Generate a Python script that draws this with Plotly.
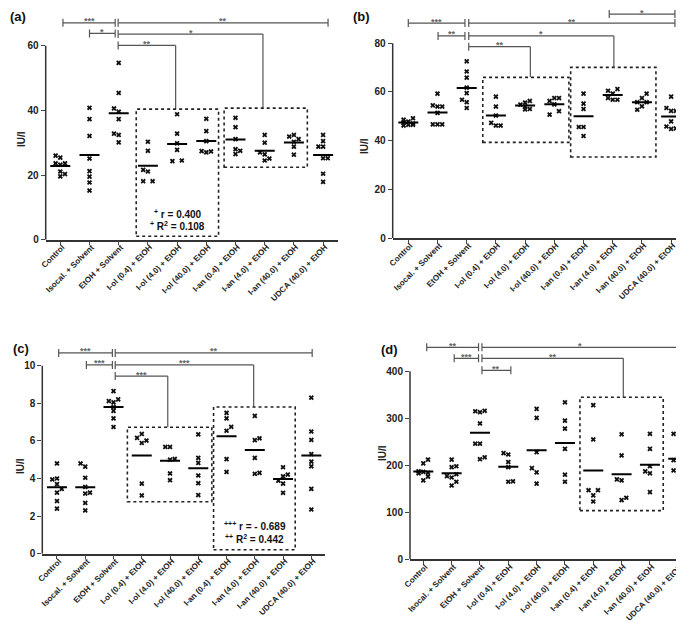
import plotly.graph_objects as go

W, H = 684, 623

categories = ["Control", "Isocal. + Solvent", "EtOH + Solvent", "I-ol (0.4) + EtOH",
              "I-ol (4.0) + EtOH", "I-ol (40.0) + EtOH", "I-an (0.4) + EtOH",
              "I-an (4.0) + EtOH", "I-an (40.0) + EtOH", "UDCA (40.0) + EtOH"]

# ---------------- Panel (a) ----------------
a_values = [
    [26.0, 25.4, 23.6, 23.2, 23.6, 21.1, 19.6, 20.3],
    [40.8, 37.3, 32.1, 25.1, 21.2, 19.5, 17.7, 15.2],
    [54.7, 45.4, 40.6, 39.6, 37.3, 32.8, 32.4, 30.1],
    [30.3, 27.5, 21.6, 21.1, 18.1, 18.1],
    [38.8, 32.8, 29.8, 27.8, 24.3, 24.5],
    [37.4, 33.6, 30.5, 27.4, 27.0, 27.3],
    [37.7, 34.8, 31.1, 28.0, 27.5, 26.5],
    [32.4, 30.0, 27.0, 26.4, 25.1, 24.5],
    [31.9, 32.4, 31.1, 30.3, 28.8, 26.3],
    [32.4, 30.5, 28.8, 28.8, 25.2, 25.2, 20.4, 17.9],
]
a_columns = [
    [-1, 0, -1, 0, 1, 0, 0, 1],
    [0, 0, 0, 0, 0, 0, 0, 0],
    [0, 0, -1, 0, 0, -1, 0, 0],
    [0, 0, -1, 0, -1, 1],
    [0, 0, 0, 0, -1, 1],
    [0, 0, 0, -1, 0, 1],
    [0, 0, 0, 0, 1, 0],
    [0, 0, -1, 0, 1, 0],
    [-1, 0, 1, 0, 0, 0],
    [0, 0, -1, 0, 0, 1, 0, 0],
]
a_means = [22.8, 26.2, 39.1, 22.9, 29.6, 30.5, 31.0, 27.5, 30.1, 26.2]
a_yticks = [0, 20, 40, 60]
a_brackets = [("***", 0.09, 1.88, 67.1, None), ("**", 1.98, 9.17, 67.1, None),
              ("*", 1.0, 1.88, 63.8, None), ("*", 1.98, 6.94, 63.6, 40.6),
              ("**", 1.98, 3.95, 60.1, 40.4)]
a_boxes = [(2.60, 5.42, 1.05, 40.4), (5.61, 8.46, 22.4, 40.7)]
a_notes = [("<sup>+</sup> r = 0.400", 4.03, 8.0), ("<sup>+</sup> R<sup>2</sup> = 0.108", 4.03, 4.1)]

# ---------------- Panel (b) ----------------
b_values = [
    [49.2, 48.6, 47.8, 47.4, 47.0, 46.5, 46.2, 46.5],
    [59.3, 54.5, 54.0, 54.0, 51.4, 46.7, 46.7, 46.7],
    [72.6, 68.4, 65.9, 61.8, 59.5, 56.8, 55.8, 53.4],
    [58.1, 54.0, 50.3, 47.3, 46.2, 46.2],
    [56.3, 55.6, 54.8, 54.0, 52.8, 53.0],
    [57.5, 57.5, 56.3, 54.9, 52.1, 50.7],
    [59.3, 55.2, 53.0, 45.6, 45.6, 41.9],
    [61.2, 60.5, 59.3, 57.5, 56.8, 56.8],
    [59.3, 57.5, 55.8, 55.8, 54.1, 52.7],
    [58.1, 53.4, 52.2, 52.2, 47.9, 45.8, 44.8, 45.0],
]
b_columns = [
    [1, -1, 0, -1, 1, 0, -1, 1],
    [0, -1, 0, 1, 0, -1, 0, 1],
    [0, 0, 0, 0, 0, -1, 0, 0],
    [0, 0, 0, -1, 0, 1],
    [1, 0, -1, 0, 0, 1],
    [0, 1, -1, 0, 1, -1],
    [0, 0, 0, -1, 0, 0],
    [1, -1, 0, -1, 0, 1],
    [1, 0, -1, 1, 0, -1],
    [0, -1, 0, 1, 0, -1, 0, 1],
]
b_means = [47.5, 51.6, 61.6, 50.3, 54.4, 54.9, 50.0, 58.7, 55.8, 49.9]
b_yticks = [0, 20, 40, 60, 80]
b_brackets = [("*", 6.88, 9.13, 92.0, None), ("***", 0.0, 1.94, 88.3, None),
              ("**", 2.07, 9.13, 88.3, None), ("**", 1.02, 1.94, 83.0, None),
              ("*", 2.07, 7.04, 83.0, 70.1), ("**", 2.07, 4.18, 78.6, 66.0)]
b_boxes = [(2.55, 5.50, 39.3, 66.0), (5.56, 8.48, 33.3, 70.1)]
b_notes = []

# ---------------- Panel (c) ----------------
c_values = [
    [4.8, 4.0, 3.95, 3.7, 3.45, 3.25, 2.8, 2.4],
    [4.8, 4.63, 4.04, 3.55, 3.25, 3.2, 2.7, 2.3],
    [8.65, 8.21, 8.12, 8.05, 7.8, 7.6, 7.2, 6.74],
    [6.37, 6.16, 6.02, 5.89, 3.73, 3.1],
    [5.68, 5.68, 5.04, 5.0, 4.27, 3.91],
    [6.35, 5.1, 4.83, 4.16, 3.75, 3.12],
    [7.49, 7.2, 6.75, 6.54, 5.03, 4.35],
    [7.33, 6.14, 6.04, 5.1, 4.3, 4.25],
    [4.6, 4.21, 4.12, 3.89, 3.73, 3.24],
    [8.3, 6.5, 6.05, 5.3, 4.9, 4.65, 3.45, 2.35],
]
c_columns = [
    [0, 0, -1, 0, 1, 0, 0, 0],
    [-1, 0, 0, 0, 1, 0, 0, 0],
    [0, 1, -1, 0, 0, 0, 0, 0],
    [0, -1, 1, 0, 0, 0],
    [-1, 0, 1, 0, 0, 0],
    [0, 0, 0, 0, 0, 0],
    [0, 0, 1, 0, 0, 0],
    [0, 1, 0, 0, 1, 0],
    [0, 1, 0, -1, 0, 0],
    [0, 0, 0, 0, 0, 0, 0, 0],
]
c_means = [3.54, 3.54, 7.8, 5.22, 4.94, 4.55, 6.25, 5.52, 3.98, 5.22]
c_yticks = [0, 2, 4, 6, 8, 10]
c_brackets = [("***", 0.06, 1.96, 10.68, None), ("**", 2.06, 9.03, 10.68, None),
              ("***", 1.04, 1.96, 10.04, None), ("***", 2.06, 6.96, 10.04, 7.8),
              ("***", 2.06, 3.92, 9.45, 6.73)]
c_boxes = [(2.49, 5.48, 2.76, 6.73), (5.54, 8.43, 0.21, 7.8)]
c_notes = [("<sup>+++</sup> r = - 0.689", 6.99, 1.46), ("<sup>++</sup> R<sup>2</sup> = 0.442", 6.99, 0.8)]

# ---------------- Panel (d) ----------------
d_values = [
    [212, 204, 187, 186, 184, 183, 176, 168],
    [212, 198, 196, 181, 177, 174, 165, 157],
    [316, 315, 313, 289, 246, 246, 217, 213],
    [226, 223, 207, 196, 166, 165],
    [320, 301, 228, 194, 185, 161],
    [334, 295, 278, 235, 180, 165],
    [328, 255, 147, 147, 136, 123],
    [266, 221, 170, 168, 131, 126],
    [267, 235, 198, 187, 183, 143],
    [267, 265, 216, 211, 204, 189, 189, 179],
]
d_columns = [
    [1, 0, -1, 0, 1, -1, 1, 0],
    [0, 1, 0, 1, -1, 0, 1, 0],
    [1, -1, 0, 0, -1, 0, 1, 0],
    [-1, 0, 0, 0, 1, 0],
    [0, 0, 0, -1, 0, 0],
    [0, 0, 0, 0, 0, 0],
    [0, 0, -1, 1, 0, 0],
    [0, 0, -1, 0, 1, 0],
    [0, 0, 0, -1, 0, 0],
    [-1, 0, 0, -1, 0, -1, 1, 0],
]
d_means = [187, 183, 269.5, 197, 232, 247.5, 189, 181, 201, 214]
d_yticks = [0, 100, 200, 300, 400]
d_brackets = [("**", 0.12, 1.95, 451, None), ("*", 2.07, 8.96, 451, None),
              ("***", 1.09, 1.95, 427.7, None), ("**", 2.07, 7.06, 427.7, 344.7),
              ("**", 2.07, 3.09, 402, None)]
d_boxes = [(5.53, 8.47, 103.5, 344.7)]
d_notes = []

# ---------------- layout of panels (pixel geometry) ----------------
panels = [
    dict(values=a_values, cols=a_columns, means=a_means, yticks=a_yticks, brackets=a_brackets,
         boxes=a_boxes, notes=a_notes, xr=[-0.5, 9.5], yr=[0, 70],
         px_x=(37.7, 329.7), px_y=(231.7, 5.4), label="(a)", label_px=(0, 8), title_px=(13, 131)),
    dict(values=b_values, cols=b_columns, means=b_means, yticks=b_yticks, brackets=b_brackets,
         boxes=b_boxes, notes=b_notes, xr=[-0.534, 9.53], yr=[0, 94],
         px_x=(384.7, 678.6), px_y=(230.0, 1.2), label="(b)", label_px=(343, 8), title_px=(356, 138)),
    dict(values=c_values, cols=c_columns, means=c_means, yticks=c_yticks, brackets=c_brackets,
         boxes=c_boxes, notes=c_notes, xr=[-0.52, 9.47], yr=[0, 10.9],
         px_x=(34.3, 316.6), px_y=(545.7, 340.8), label="(c)", label_px=(3, 340), title_px=(12, 458)),
    dict(values=d_values, cols=d_columns, means=d_means, yticks=d_yticks, brackets=d_brackets,
         boxes=d_boxes, notes=d_notes, xr=[-0.47, 9.45], yr=[0, 465],
         px_x=(402.0, 683.0), px_y=(551.3, 332.75), label="(d)", label_px=(371, 341), title_px=(374, 445)),
]

FONT = "Liberation Sans"
fig = go.Figure()
shapes = []
annotations = []
layout_axes = {}

for k, p in enumerate(panels):
    sfx = "" if k == 0 else str(k + 1)
    xref, yref = "x" + sfx, "y" + sfx
    spacing_px = (p["px_x"][1] - p["px_x"][0]) / (p["xr"][1] - p["xr"][0])
    yscale_px = (p["px_y"][0] - p["px_y"][1]) / (p["yr"][1] - p["yr"][0])
    jit = 4.7 / spacing_px
    half = 10.0 / spacing_px
    cap = 4.0 / yscale_px

    xs, ys = [], []
    for i, (vals, cols) in enumerate(zip(p["values"], p["cols"])):
        for v, c in zip(vals, cols):
            xs.append(i + c * jit)
            ys.append(v)
    fig.add_trace(go.Scatter(x=xs, y=ys, mode="markers", xaxis=xref, yaxis=yref,
                             marker=dict(symbol="x", size=4.6, color="#111",
                                         line=dict(width=0)),
                             showlegend=False, hoverinfo="skip"))
    mx, my = [], []
    for i, m in enumerate(p["means"]):
        mx += [i - half, i + half, None]
        my += [m, m, None]
    fig.add_trace(go.Scatter(x=mx, y=my, mode="lines", xaxis=xref, yaxis=yref,
                             line=dict(color="black", width=2), showlegend=False,
                             hoverinfo="skip"))

    dx = [p["px_x"][0] / W, p["px_x"][1] / W]
    dy = [1 - p["px_y"][0] / H, 1 - p["px_y"][1] / H]
    layout_axes["xaxis" + sfx] = dict(
        domain=dx, range=p["xr"], anchor=yref, tickmode="array",
        tickvals=list(range(len(categories))), ticktext=categories, tickangle=-45,
        showline=True, linecolor="#333", linewidth=1.5, ticks="outside", ticklen=4,
        tickwidth=1.2, tickcolor="#444", showgrid=False, zeroline=False,
        ticklabelstandoff=-6, ticklabelshift=2,
        tickfont=dict(family=FONT, size=8.1, color="#222", weight="bold"), automargin=False)
    layout_axes["yaxis" + sfx] = dict(
        domain=dy, range=p["yr"], anchor=xref, tickmode="array", tickvals=p["yticks"],
        showline=False, ticks="outside", ticklen=4, tickwidth=1.2, tickcolor="#444",
        showgrid=False, zeroline=False, automargin=False,
        tickfont=dict(family=FONT, size=10, color="#222", weight="bold"))

    # y axis line (up to top tick)
    shapes.append(dict(type="line", xref=xref + " domain", yref=yref, x0=0, x1=0,
                       y0=0, y1=max(p["yticks"]), line=dict(color="#333", width=1.5)))

    bcol = "#555"
    for lab, x0, x1, yl, drop in p["brackets"]:
        shapes.append(dict(type="line", xref=xref, yref=yref, x0=x0, x1=x1, y0=yl, y1=yl,
                           line=dict(color=bcol, width=1.2)))
        shapes.append(dict(type="line", xref=xref, yref=yref, x0=x0, x1=x0, y0=yl - cap,
                           y1=yl + cap, line=dict(color=bcol, width=1.2)))
        if drop is None:
            shapes.append(dict(type="line", xref=xref, yref=yref, x0=x1, x1=x1, y0=yl - cap,
                               y1=yl + cap, line=dict(color=bcol, width=1.2)))
        else:
            shapes.append(dict(type="line", xref=xref, yref=yref, x0=x1, x1=x1, y0=drop,
                               y1=yl, line=dict(color=bcol, width=1.2)))
        annotations.append(dict(text=lab, x=(x0 + x1) / 2, y=yl, xref=xref, yref=yref,
                                showarrow=False, yanchor="middle", yshift=1.5,
                                font=dict(family=FONT, size=9, color="#666", weight="bold")))

    for x0, x1, y0, y1 in p["boxes"]:
        shapes.append(dict(type="rect", xref=xref, yref=yref, x0=x0, x1=x1, y0=y0, y1=y1,
                           line=dict(color="#222", width=1.6, dash="dot"),
                           fillcolor="rgba(0,0,0,0)"))

    for txt, x, y in p["notes"]:
        annotations.append(dict(text=txt, x=x, y=y, xref=xref, yref=yref, showarrow=False,
                                font=dict(family=FONT, size=10, color="#111", weight="bold")))

    annotations.append(dict(text=p["label"], x=p["label_px"][0] / W, y=1 - p["label_px"][1] / H,
                            xref="paper", yref="paper", xanchor="left", yanchor="middle",
                            showarrow=False,
                            font=dict(family=FONT, size=13, color="#111", weight="bold")))
    annotations.append(dict(text="IU/l", x=p["title_px"][0] / W, y=1 - p["title_px"][1] / H,
                            xref="paper", yref="paper", textangle=-90, showarrow=False,
                            xanchor="center", yanchor="middle",
                            font=dict(family=FONT, size=10, color="#222", weight="bold")))

fig.update_layout(width=W, height=H, margin=dict(l=0, r=0, t=0, b=0),
                  paper_bgcolor="white", plot_bgcolor="white",
                  shapes=shapes, annotations=annotations, **layout_axes)

fig.write_html("out.html")
